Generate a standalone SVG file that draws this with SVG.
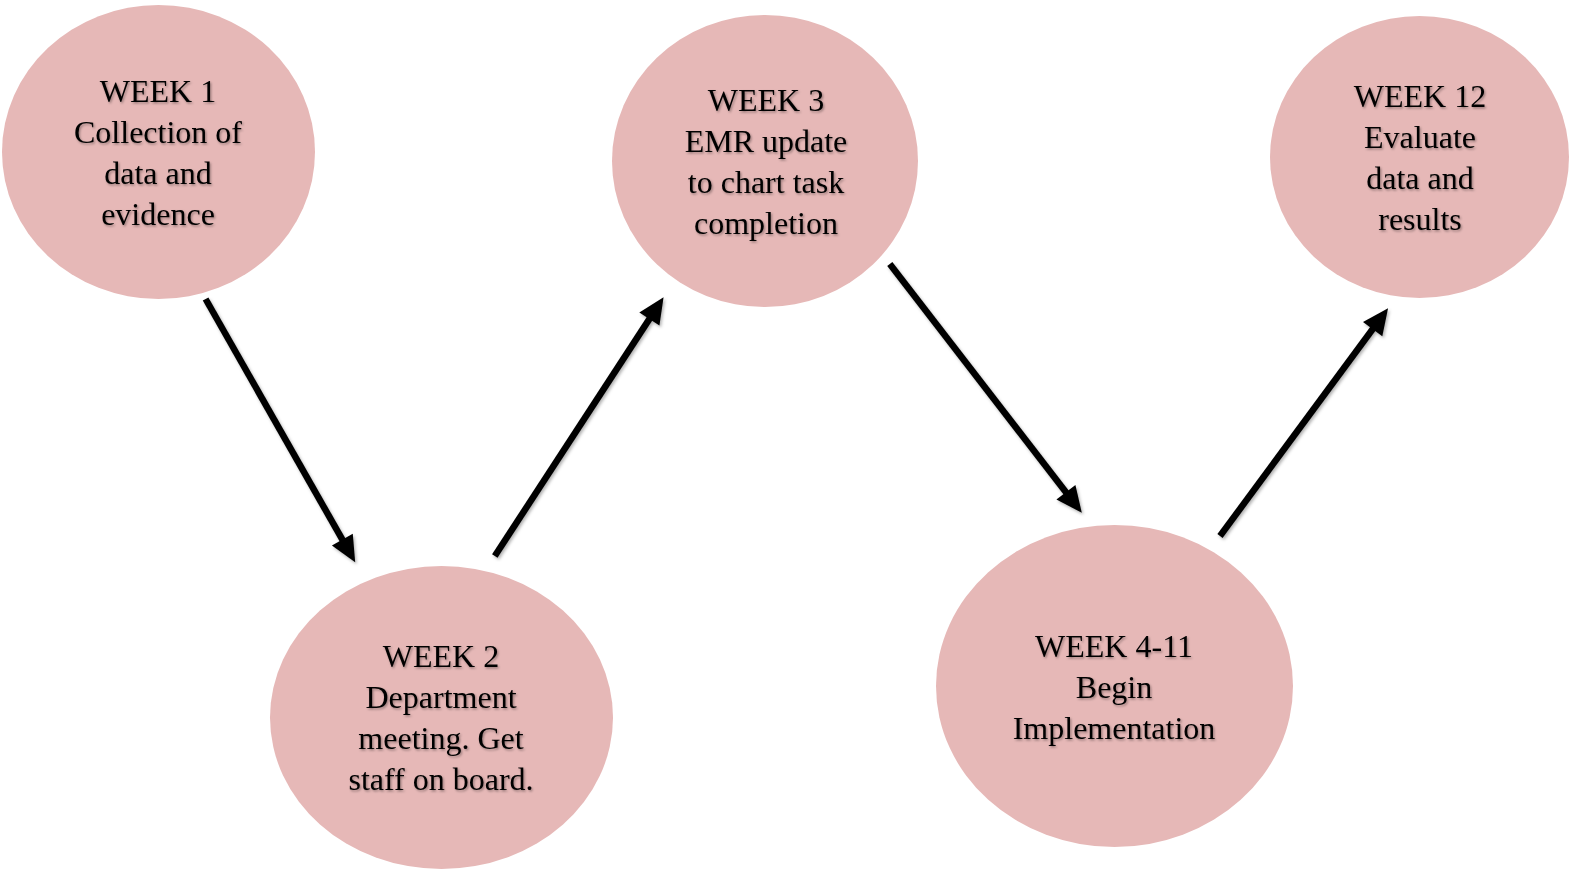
<svg xmlns="http://www.w3.org/2000/svg" width="1580" height="871" viewBox="0 0 1580 871">
<style>
.node ellipse{fill:#E6B8B7;stroke:none}
.node text{font-family:"Liberation Serif","Times New Roman",serif;font-size:32px;fill:#000;text-anchor:middle;filter:url(#ts)}
.conn line{stroke:#000;stroke-width:6.5;marker-end:url(#ah);filter:url(#ls)}
</style>
<defs>
<filter id="ts" x="-10%" y="-30%" width="120%" height="160%"><feDropShadow dx="1.2" dy="1.5" stdDeviation="0.8" flood-color="#000" flood-opacity="0.35"/></filter>
<filter id="ls" x="-20%" y="-20%" width="140%" height="140%"><feDropShadow dx="1.5" dy="2" stdDeviation="1.5" flood-color="#000" flood-opacity="0.3"/></filter>
<marker id="ah" markerUnits="userSpaceOnUse" markerWidth="26" markerHeight="24" refX="7" refY="12" orient="auto" overflow="visible"><path d="M0,0 L26,12 L0,24 z" fill="#000"/></marker>
</defs>
<rect width="1580" height="871" fill="#fff"/>
<g id="connectors" class="conn">
<line x1="205.6" y1="299" x2="345.8" y2="545.7"/>
<line x1="494.8" y1="556" x2="653.2" y2="313.1"/>
<line x1="889.8" y1="264" x2="1070.2" y2="497.8"/>
<line x1="1220" y1="536" x2="1376.8" y2="323.5"/>
</g>
<g id="week1" class="node">
<ellipse cx="158.5" cy="152" rx="156.5" ry="147"/>
<text x="158" y="102">WEEK 1</text>
<text x="158" y="143">Collection of</text>
<text x="158" y="184">data and</text>
<text x="158" y="225">evidence</text>
</g>
<g id="week2" class="node">
<ellipse cx="441.5" cy="717.5" rx="171.5" ry="151.5"/>
<text x="441" y="667">WEEK 2</text>
<text x="441" y="708">Department</text>
<text x="441" y="749">meeting. Get</text>
<text x="441" y="790">staff on board.</text>
</g>
<g id="week3" class="node">
<ellipse cx="765" cy="161" rx="153" ry="146"/>
<text x="766" y="111">WEEK 3</text>
<text x="766" y="152">EMR update</text>
<text x="766" y="193">to chart task</text>
<text x="766" y="234">completion</text>
</g>
<g id="week4-11" class="node">
<ellipse cx="1114.5" cy="686" rx="178.5" ry="161"/>
<text x="1114" y="657">WEEK 4-11</text>
<text x="1114" y="698">Begin</text>
<text x="1114" y="739">Implementation</text>
</g>
<g id="week12" class="node">
<ellipse cx="1419.5" cy="157" rx="149.5" ry="141"/>
<text x="1420" y="107">WEEK 12</text>
<text x="1420" y="148">Evaluate</text>
<text x="1420" y="189">data and</text>
<text x="1420" y="230">results</text>
</g>
</svg>
